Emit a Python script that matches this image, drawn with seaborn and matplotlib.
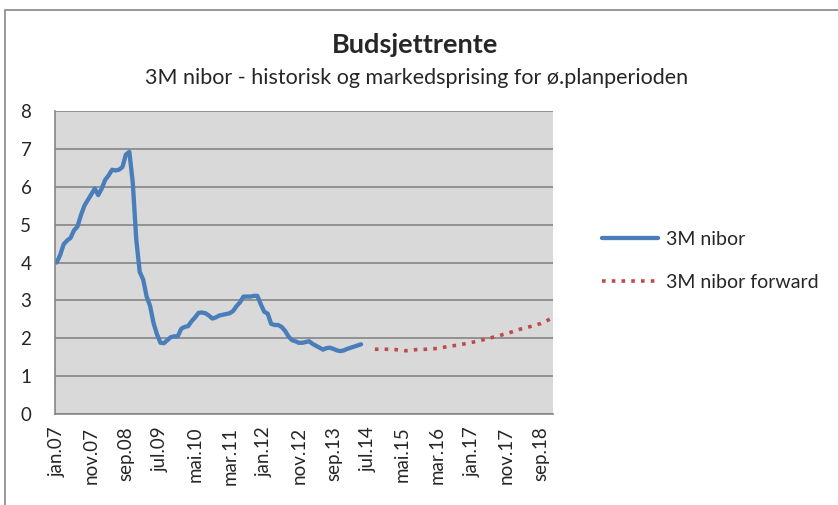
import numpy as np
import pandas as pd
import matplotlib.pyplot as plt
import matplotlib.patches as mpatches
import seaborn as sns

# -----------------------------
# Data
# -----------------------------
months_no = ["jan", "feb", "mar", "apr", "mai", "jun",
             "jul", "aug", "sep", "okt", "nov", "des"]

# monthly categories jan.07 .. des.18
categories = [f"{m}.{y:02d}" for y in range(7, 19) for m in months_no]

# historical 3M nibor, monthly from jan.07
nibor = [4.00, 4.20, 4.48, 4.58, 4.65, 4.85, 4.95, 5.25, 5.50, 5.65,
         5.80, 5.95, 5.78, 5.95, 6.18, 6.30, 6.45, 6.43, 6.45, 6.52,
         6.85, 6.92, 6.10, 4.60, 3.75, 3.55, 3.10, 2.85, 2.40, 2.10,
         1.88, 1.87, 1.95, 2.03, 2.05, 2.05, 2.25, 2.30, 2.32, 2.45,
         2.55, 2.67, 2.68, 2.66, 2.60, 2.52, 2.55, 2.60, 2.62, 2.64,
         2.66, 2.72, 2.85, 2.95, 3.10, 3.10, 3.10, 3.12, 3.12, 2.90,
         2.70, 2.65, 2.38, 2.35, 2.35, 2.30, 2.20, 2.05, 1.95, 1.92,
         1.88, 1.88, 1.90, 1.92, 1.85, 1.80, 1.75, 1.70, 1.74, 1.75,
         1.72, 1.68, 1.66, 1.68, 1.72, 1.75, 1.78, 1.81, 1.84]

# forward pricing, quarterly points from sep.14
forward_idx = [92, 95, 98, 101, 104, 107, 110, 113, 116, 119,
               122, 125, 128, 131, 134, 137, 140, 143]
forward = [1.71, 1.71, 1.70, 1.67, 1.70, 1.71, 1.73, 1.78, 1.82, 1.87,
           1.93, 2.00, 2.07, 2.15, 2.24, 2.31, 2.39, 2.52]

hist_df = pd.DataFrame({"idx": np.arange(len(nibor)), "rate": nibor})
fwd_df = pd.DataFrame({"idx": forward_idx, "rate": forward})

# -----------------------------
# Plot
# -----------------------------
sns.set_style("white")
plt.rcParams["font.family"] = ["Lato", "DejaVu Sans"]

fig = plt.figure(figsize=(8.38, 5.05), dpi=100)
ax = fig.add_axes([55 / 838, 1 - 414 / 505, 498 / 838, 303 / 505])
ax.set_facecolor("#D9D9D9")

sns.lineplot(data=hist_df, x="idx", y="rate", ax=ax, color="#4A7EBB",
             linewidth=3.1, label="3M nibor")
sns.lineplot(data=fwd_df, x="idx", y="rate", ax=ax, color="#BE4B48",
             linewidth=2.6, linestyle=(0, (1, 1.7)), label="3M nibor forward")

ax.set_xlim(-0.5, len(categories) - 0.5)
ax.set_ylim(0, 8)
ax.set_yticks(range(0, 9))
ax.set_xticks(range(0, len(categories), 10))
ax.set_xticklabels(categories[::10], rotation=90, fontsize=13.5)
ax.tick_params(axis="y", labelsize=13.5, length=5, color="#868686", pad=12)
ax.tick_params(axis="x", length=5, color="#868686", pad=4, direction="out")
ax.set_xlabel("")
ax.set_ylabel("")

ax.grid(axis="y", color="#868686", linewidth=1.2)
ax.grid(axis="x", visible=False)
ax.set_axisbelow(True)
for side in ["top", "right"]:
    ax.spines[side].set_visible(False)
for side in ["left", "bottom"]:
    ax.spines[side].set_color("#868686")
    ax.spines[side].set_linewidth(1.2)

leg = ax.legend(loc="center left", bbox_to_anchor=(584 / 838, 1 - 261 / 505),
                bbox_transform=fig.transFigure, frameon=False, fontsize=14,
                handlelength=2.9, labelspacing=1.35, handletextpad=0.4)

fig.text(0.495, 1 - 45 / 505, "Budsjettrente", ha="center", va="center",
         fontsize=19.5, fontweight="bold")
fig.text(0.497, 1 - 78 / 505, "3M nibor - historisk og markedsprising for ø.planperioden",
         ha="center", va="center", fontsize=15.5)

# outer chart border
fig.patches.append(mpatches.Rectangle((5 / 838, -0.05), 1.0, 1 - 10 / 505 + 0.05,
                                      transform=fig.transFigure, fill=False,
                                      edgecolor="#868686", linewidth=1.2))

fig.savefig("out.png", dpi=100)
